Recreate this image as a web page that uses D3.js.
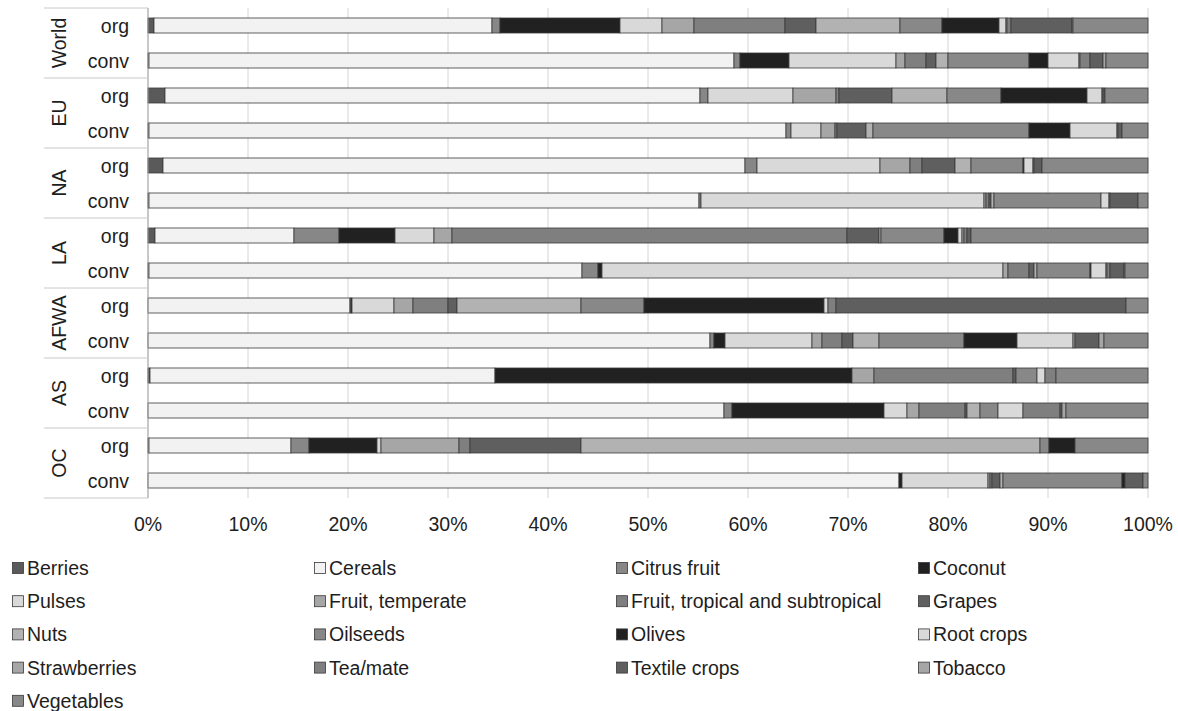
<!DOCTYPE html>
<html>
<head>
    <meta charset="utf-8">
    <style>
        body { margin: 0; background: #fff; }
        svg { display: block; font-family: 'Liberation Sans', Arial, sans-serif; }
        .lbl { font-size: 19.5px; fill: #1e1e1e; }
    </style>
</head>
<body>
<svg width="1178" height="711"></svg>

<script src="https://d3js.org/d3.v7.min.js"></script>
<script>
    // bars, top to bottom
    let regions = ["World", "EU", "NA", "LA", "AFWA", "AS", "OC"];
    let types = ["org", "conv"];

    let crops = ["Berries", "Cereals", "Citrus fruit", "Coconut", "Pulses", "Fruit, temperate",
        "Fruit, tropical and subtropical", "Grapes", "Nuts", "Oilseeds", "Olives", "Root crops",
        "Strawberries", "Tea/mate", "Textile crops", "Tobacco", "Vegetables"];

    let cropColors = ["#5a5a5a", "#f2f2f2", "#878787", "#212121", "#d9d9d9", "#a6a6a6",
        "#7f7f7f", "#5f5f5f", "#b2b2b2", "#888888", "#212121", "#d9d9d9",
        "#a6a6a6", "#7f7f7f", "#5f5f5f", "#a6a6a6", "#888888"];

    // share in %, one value per bar: World org, World conv, EU org, EU conv, ... OC conv
    let berries      = [0.6, 0.1, 1.7, 0.1, 1.5, 0.1, 0.7, 0.1, 0, 0, 0.2, 0, 0.1, 0];
    let cereals      = [33.8, 58.5, 53.5, 63.7, 58.2, 55.0, 13.9, 43.3, 20.2, 56.2, 34.5, 57.6, 14.2, 75.1];
    let citrus       = [0.8, 0.6, 0.8, 0.5, 1.2, 0.2, 4.5, 1.6, 0.1, 0.4, 0, 0.8, 1.8, 0];
    let coconut      = [12.0, 4.9, 0, 0, 0, 0, 5.6, 0.4, 0.1, 1.1, 35.7, 15.2, 6.8, 0.3];
    let pulses       = [4.2, 10.7, 8.5, 3.0, 12.3, 28.3, 3.9, 40.1, 4.2, 8.7, 0, 2.3, 0.4, 8.6];
    let fruitTemp    = [3.2, 0.9, 4.3, 1.4, 3.0, 0.2, 1.8, 0.5, 1.9, 1.0, 2.2, 1.2, 7.8, 0.2];
    let fruitTrop    = [9.1, 2.1, 0.3, 0.2, 1.2, 0.3, 39.5, 2.1, 3.5, 2.0, 13.9, 4.6, 1.1, 0.2];
    let grapes       = [3.1, 1.0, 5.3, 2.9, 3.3, 0.2, 3.2, 0.5, 0.9, 1.1, 0.3, 0.2, 11.1, 0.8];
    let nuts         = [8.4, 1.2, 5.5, 0.7, 1.6, 0.3, 0.2, 0.3, 12.4, 2.6, 0, 1.3, 45.9, 0.3];
    let oilseeds     = [4.2, 8.1, 5.4, 15.6, 5.2, 10.7, 6.3, 5.3, 6.3, 8.5, 2.1, 1.8, 0.9, 11.9];
    let olives       = [5.7, 1.9, 8.6, 4.1, 0.1, 0, 1.4, 0.1, 18.0, 5.3, 0, 0, 2.6, 0.3];
    let rootCrops    = [0.7, 3.1, 1.5, 4.7, 0.9, 0.8, 0.4, 1.5, 0.4, 5.6, 0.8, 2.5, 0, 0];
    let strawberries = [0.1, 0.1, 0, 0, 0, 0, 0.2, 0.1, 0, 0.2, 0, 0, 0, 0];
    let teaMate      = [0.4, 1.0, 0.1, 0.1, 0.1, 0.1, 0.3, 0.3, 0.8, 0, 1.1, 3.7, 0, 0];
    let textile      = [6.1, 1.3, 0.2, 0.4, 0.8, 2.8, 0.4, 1.4, 29.0, 2.4, 0, 0.2, 0, 1.8];
    let tobacco      = [0.1, 0.3, 0, 0, 0, 0, 0, 0.1, 0, 0.5, 0, 0.4, 0, 0];
    let vegetables   = [7.5, 4.2, 4.3, 2.6, 10.6, 1.0, 17.7, 2.3, 2.2, 4.4, 9.2, 8.2, 7.3, 0.5];

    let tickLabels = ["0%", "10%", "20%", "30%", "40%", "50%", "60%", "70%", "80%", "90%", "100%"];

    let series = [berries, cereals, citrus, coconut, pulses, fruitTemp, fruitTrop, grapes, nuts,
        oilseeds, olives, rootCrops, strawberries, teaMate, textile, tobacco, vegetables];

    // build a row per bar
    let bars = [];
    regions.forEach((r, ri) => {
        types.forEach((t, ti) => {
            let row = { id: r + "|" + t, region: r, type: t };
            let i = ri * 2 + ti;
            crops.forEach((c, ci) => { row[c] = series[ci][i]; });
            bars.push(row);
        });
    });

    let svg = d3.select("svg");
    let plotLeft = 148, plotRight = 1148, plotTop = 8, plotBottom = 498;

    let x = d3.scaleLinear().domain([0, 100]).range([plotLeft, plotRight]);
    let y = d3.scaleBand()
        .domain(bars.map(d => d.id))
        .range([plotTop, plotBottom])
        .paddingInner(20 / 35)
        .paddingOuter(10 / 35);
    let color = d3.scaleOrdinal().domain(crops).range(cropColors);

    // gridlines
    svg.append("g")
        .selectAll("line")
        .data(d3.range(0, 101, 10))
        .join("line")
        .attr("x1", d => x(d)).attr("x2", d => x(d))
        .attr("y1", plotTop).attr("y2", plotBottom)
        .style("stroke", "#d4d4d4")
        .style("stroke-width", 1)

    // stacked bars
    let stacked = d3.stack().keys(crops)(bars);

    svg.append("g")
        .selectAll("g")
        .data(stacked)
        .join("g")
        .style("fill", d => color(d.key))
        .selectAll("rect")
        .data(d => d)
        .join("rect")
        .attr("x", d => x(d[0]))
        .attr("width", d => x(d[1]) - x(d[0]))
        .attr("y", d => y(d.data.id))
        .attr("height", y.bandwidth())
        .style("stroke", "#3a3a3a")
        .style("stroke-width", d => (d[1] - d[0]) > 0 ? 0.8 : 0)

    // x tick labels
    svg.append("g")
        .selectAll("text")
        .data(tickLabels)
        .join("text")
        .attr("class", "lbl")
        .attr("x", (d, i) => x(i * 10))
        .attr("y", 524)
        .attr("text-anchor", "middle")
        .attr("dominant-baseline", "central")
        .text(d => d)

    // category axis: vertical line + region separators
    svg.append("line")
        .attr("x1", plotLeft).attr("x2", plotLeft)
        .attr("y1", plotTop).attr("y2", plotBottom)
        .style("stroke", "#a6a6a6")

    let regionY = d3.scaleBand().domain(regions).range([plotTop, plotBottom]);

    svg.append("g")
        .selectAll("line")
        .data(d3.range(regions.length + 1))
        .join("line")
        .attr("x1", 44).attr("x2", plotLeft)
        .attr("y1", i => plotTop + i * regionY.step())
        .attr("y2", i => plotTop + i * regionY.step())
        .style("stroke", "#c8c8c8")

    svg.append("g")
        .selectAll("text")
        .data(bars)
        .join("text")
        .attr("class", "lbl")
        .attr("x", 129)
        .attr("y", d => y(d.id) + y.bandwidth() / 2)
        .attr("text-anchor", "end")
        .attr("dominant-baseline", "central")
        .text(d => d.type)

    svg.append("g")
        .selectAll("text")
        .data(regions)
        .join("text")
        .attr("class", "lbl")
        .attr("transform", d => "translate(59," + (regionY(d) + regionY.bandwidth() / 2) + ") rotate(-90)")
        .attr("text-anchor", "middle")
        .attr("dominant-baseline", "central")
        .text(d => d)

    // legend, 4 columns
    let legend = svg.append("g")
        .selectAll("g")
        .data(crops)
        .join("g")
        .attr("transform", (d, i) => "translate(" + (12 + (i % 4) * 302) + "," + (568 + Math.floor(i / 4) * 33.2) + ")")

    legend.append("rect")
        .attr("x", 0.5).attr("y", -5.5)
        .attr("width", 11).attr("height", 11)
        .style("fill", d => color(d))
        .style("stroke", "#3a3a3a")
        .style("stroke-width", 0.8)

    legend.append("text")
        .attr("class", "lbl")
        .attr("x", 15)
        .attr("y", 0)
        .attr("dominant-baseline", "central")
        .text(d => d)
</script>
</body>
</html>
